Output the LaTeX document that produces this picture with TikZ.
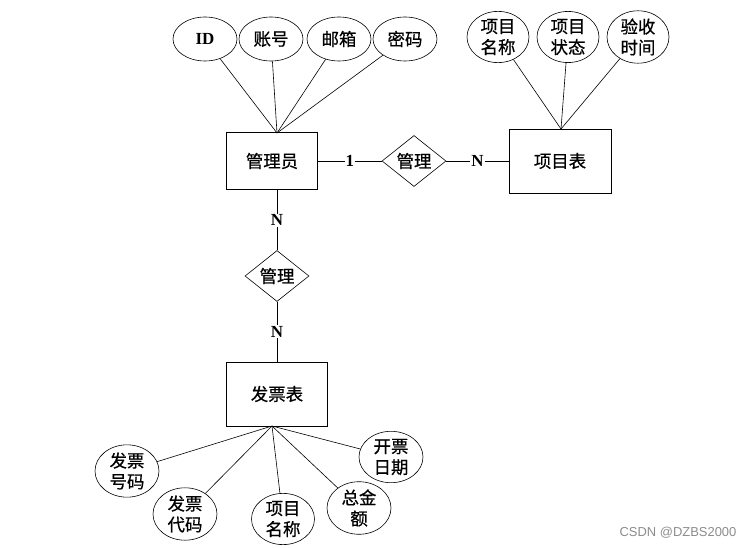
\documentclass[tikz,border=0pt]{standalone}
\usepackage{fontspec}
\setmainfont{Liberation Serif}
\newfontfamily\cjk[FakeBold=0.6]{Noto Sans CJK SC}
\newfontfamily\wmfont{Liberation Sans}
\usepackage{pgf}
\usepackage{tikz}
\usetikzlibrary{arrows,positioning,shapes.geometric}

\tikzset{
	entity/.style={draw, rectangle, inner sep=0pt, font=\cjk\fontsize{17.5}{22}\selectfont},
	attr/.style={draw, ellipse, minimum width=64bp, minimum height=44bp, inner sep=0pt, align=center, font=\cjk\fontsize{17.5}{21}\selectfont},
	rel/.style={draw, diamond, minimum width=64bp, minimum height=45bp, inner sep=0pt, font=\cjk\fontsize{17.5}{22}\selectfont},
	card/.style={fill=white, inner sep=1bp, font=\bfseries\fontsize{17}{17}\selectfont},
}

\begin{document}
\begin{tikzpicture}[x=1bp, y=-1bp, line width=0.6bp]
	\useasboundingbox (0, 0) rectangle (752, 548);

	\node[entity, minimum width=91bp, minimum height=57bp] (admin) at (272, 161) {管理员};
	\node[entity, minimum width=102bp, minimum height=64bp] (project) at (560, 161) {项目表};
	\node[entity, minimum width=101bp, minimum height=64bp] (invoice) at (277, 394) {发票表};
	\node[rel] (manage1) at (414, 161) {管理};
	\node[rel] (manage2) at (277, 276) {管理};

	\node[attr, font=\bfseries\fontsize{17}{17}\selectfont] (id) at (205, 39) {ID};
	\node[attr] (account) at (271, 39) {账号};
	\node[attr] (email) at (339, 39) {邮箱};
	\node[attr] (pwd) at (405, 39) {密码};

	\node[attr, minimum width=62bp, minimum height=46bp] (pname) at (498, 37) {项目\\名称};
	\node[attr, minimum width=62bp, minimum height=46bp] (pstate) at (568, 37) {项目\\状态};
	\node[attr, minimum width=62bp, minimum height=46bp] (pcheck) at (638, 37) {验收\\时间};

	\node[attr, minimum height=43bp] (invno) at (127, 471) {发票\\号码};
	\node[attr, minimum height=45bp] (invcode) at (185, 514) {发票\\代码};
	\node[attr, minimum width=63bp, minimum height=47bp] (iname) at (283, 519) {项目\\名称};
	\node[attr] (total) at (359, 508) {总金\\额};
	\node[attr, minimum height=42bp] (idate) at (391, 457) {开票\\日期};

	\coordinate (admintop) at (277, 133);
	\coordinate (adminbot) at (277, 190);
	\coordinate (projtop) at (561, 129);
	\coordinate (invbot) at (272, 426);

	\draw [-] (id) to (admintop);
	\draw [-] (account) to (admintop);
	\draw [-] (email) to (admintop);
	\draw [-] (pwd) to (admintop);

	\draw [-] (pname) to (projtop);
	\draw [-] (pstate) to (projtop);
	\draw [-] (pcheck) to (projtop);

	\draw [-] (invbot) to (invno);
	\draw [-] (invbot) to (invcode);
	\draw [-] (invbot) to (iname);
	\draw [-] (invbot) to (total);
	\draw [-] (invbot) to (idate);

	\draw [-] (admin) to node[card] (c1) {1} (manage1);
	\draw [-] (manage1) to node[card] (c2) {N} (project);
	\draw [-] (adminbot) to node[card] (c3) {N} (manage2);
	\draw [-] (manage2) to node[card] (c4) {N} (invoice);

	\node[text=black!45, font=\wmfont\fontsize{13}{13}\selectfont] (mark) at (678, 533) {CSDN @DZBS2000};
\end{tikzpicture}
\end{document}
